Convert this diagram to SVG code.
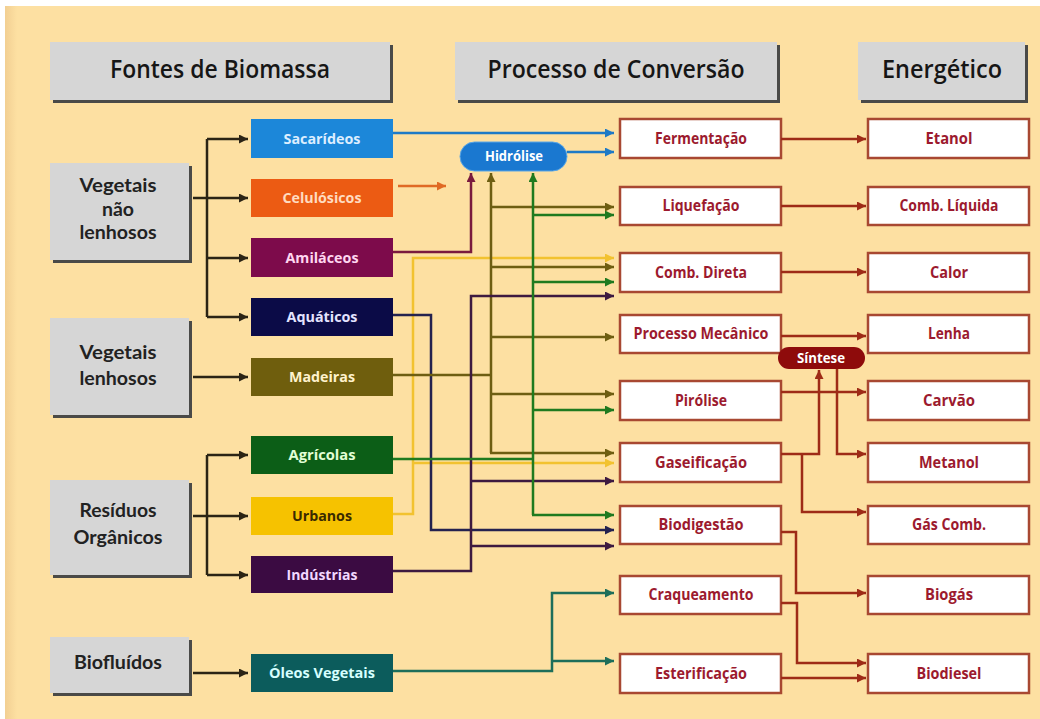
<svg xmlns="http://www.w3.org/2000/svg" width="1040" height="719" viewBox="0 0 1040 719">
<defs>
<style>
.hdr{fill:#d6d6d6}
.shd{fill:#4a4a48}
.htxt{font-family:"Open Sans","Noto Sans",sans-serif;font-size:25px;font-weight:600;fill:#161616;text-anchor:middle}
.ctxt{font-family:Lato,"Open Sans",sans-serif;font-size:19px;font-weight:700;fill:#222;text-anchor:middle}
.stxt{font-family:"Open Sans","Noto Sans",sans-serif;font-size:15px;font-weight:700;text-anchor:middle}
.pbox{fill:#fff;stroke:#a84832;stroke-width:2.5}
.ptxt{font-family:"Open Sans","Noto Sans",sans-serif;font-size:15.5px;font-weight:700;fill:#9c1a2e;text-anchor:middle}
.otxt{font-family:"Open Sans","Noto Sans",sans-serif;font-size:14px;font-weight:700;fill:#fff;text-anchor:middle}
.c{fill:none;stroke-width:2.5;stroke-linejoin:miter}
.k{stroke:#2b2415}
.bl{stroke:#1e7ac6}
.or{stroke:#e06a25}
.ma{stroke:#7a1a3e}
.ol{stroke:#6e5e12}
.gr{stroke:#1f7a1f}
.ye{stroke:#f2c230}
.nv{stroke:#24224f}
.pu{stroke:#3e1a40}
.te{stroke:#1e6e5a}
.rd{stroke:#9e2b17}
</style>
<marker id="ak" markerUnits="userSpaceOnUse" markerWidth="11" markerHeight="9" viewBox="0 0 10 10" refX="10" refY="5" orient="auto"><path d="M0,0 L10,5 L0,10 z" fill="#2b2415"/></marker>
<marker id="abl" markerUnits="userSpaceOnUse" markerWidth="11" markerHeight="9" viewBox="0 0 10 10" refX="10" refY="5" orient="auto"><path d="M0,0 L10,5 L0,10 z" fill="#1e7ac6"/></marker>
<marker id="aor" markerUnits="userSpaceOnUse" markerWidth="11" markerHeight="9" viewBox="0 0 10 10" refX="10" refY="5" orient="auto"><path d="M0,0 L10,5 L0,10 z" fill="#e06a25"/></marker>
<marker id="ama" markerUnits="userSpaceOnUse" markerWidth="11" markerHeight="9" viewBox="0 0 10 10" refX="10" refY="5" orient="auto"><path d="M0,0 L10,5 L0,10 z" fill="#7a1a3e"/></marker>
<marker id="aol" markerUnits="userSpaceOnUse" markerWidth="11" markerHeight="9" viewBox="0 0 10 10" refX="10" refY="5" orient="auto"><path d="M0,0 L10,5 L0,10 z" fill="#6e5e12"/></marker>
<marker id="agr" markerUnits="userSpaceOnUse" markerWidth="11" markerHeight="9" viewBox="0 0 10 10" refX="10" refY="5" orient="auto"><path d="M0,0 L10,5 L0,10 z" fill="#1f7a1f"/></marker>
<marker id="aye" markerUnits="userSpaceOnUse" markerWidth="11" markerHeight="9" viewBox="0 0 10 10" refX="10" refY="5" orient="auto"><path d="M0,0 L10,5 L0,10 z" fill="#f2c230"/></marker>
<marker id="anv" markerUnits="userSpaceOnUse" markerWidth="11" markerHeight="9" viewBox="0 0 10 10" refX="10" refY="5" orient="auto"><path d="M0,0 L10,5 L0,10 z" fill="#24224f"/></marker>
<marker id="apu" markerUnits="userSpaceOnUse" markerWidth="11" markerHeight="9" viewBox="0 0 10 10" refX="10" refY="5" orient="auto"><path d="M0,0 L10,5 L0,10 z" fill="#3e1a40"/></marker>
<marker id="ate" markerUnits="userSpaceOnUse" markerWidth="11" markerHeight="9" viewBox="0 0 10 10" refX="10" refY="5" orient="auto"><path d="M0,0 L10,5 L0,10 z" fill="#1e6e5a"/></marker>
<marker id="ard" markerUnits="userSpaceOnUse" markerWidth="11" markerHeight="9" viewBox="0 0 10 10" refX="10" refY="5" orient="auto"><path d="M0,0 L10,5 L0,10 z" fill="#9e2b17"/></marker>
<linearGradient id="edge" x1="0" y1="0" x2="1" y2="0"><stop offset="0" stop-color="#f2cf92"/><stop offset="1" stop-color="#fde0a2"/></linearGradient>
</defs>
<rect x="0" y="0" width="1040" height="719" fill="#ffffff"/>
<rect x="5" y="6" width="1035" height="713" fill="#fde0a2"/>
<rect x="5" y="6" width="12" height="713" fill="url(#edge)"/>

<g id="headers">
<g id="h-fontes"><rect class="shd" x="53" y="45" width="340" height="58"/><rect class="hdr" x="50" y="42" width="340" height="58"/><text class="htxt" x="220" y="78" textLength="220" lengthAdjust="spacingAndGlyphs">Fontes de Biomassa</text></g>
<g id="h-processo"><rect class="shd" x="458" y="45" width="322" height="58"/><rect class="hdr" x="455" y="42" width="322" height="58"/><text class="htxt" x="616" y="78" textLength="257" lengthAdjust="spacingAndGlyphs">Processo de Conversão</text></g>
<g id="h-energetico"><rect class="shd" x="861" y="45" width="167" height="58"/><rect class="hdr" x="858" y="42" width="167" height="58"/><text class="htxt" x="942" y="78" textLength="120" lengthAdjust="spacingAndGlyphs">Energético</text></g>
</g>

<g id="cat-vnl"><rect class="shd" x="53" y="166" width="139" height="97"/><rect class="hdr" x="50" y="163" width="139" height="97"/>
<text class="ctxt" x="118" y="192" textLength="77" lengthAdjust="spacingAndGlyphs">Vegetais</text>
<text class="ctxt" x="118" y="216" textLength="32" lengthAdjust="spacingAndGlyphs">não</text>
<text class="ctxt" x="118" y="239" textLength="77" lengthAdjust="spacingAndGlyphs">lenhosos</text></g>
<g id="cat-vl"><rect class="shd" x="53" y="321" width="139" height="97"/><rect class="hdr" x="50" y="318" width="139" height="97"/>
<text class="ctxt" x="118" y="359" textLength="77" lengthAdjust="spacingAndGlyphs">Vegetais</text>
<text class="ctxt" x="118" y="385" textLength="77" lengthAdjust="spacingAndGlyphs">lenhosos</text></g>
<g id="cat-ro"><rect class="shd" x="53" y="483" width="139" height="95"/><rect class="hdr" x="50" y="480" width="139" height="95"/>
<text class="ctxt" x="118" y="517" textLength="77" lengthAdjust="spacingAndGlyphs">Resíduos</text>
<text class="ctxt" x="118" y="544" textLength="89" lengthAdjust="spacingAndGlyphs">Orgânicos</text></g>
<g id="cat-bio"><rect class="shd" x="53" y="640" width="139" height="56"/><rect class="hdr" x="50" y="637" width="139" height="56"/>
<text class="ctxt" x="118" y="669" textLength="88" lengthAdjust="spacingAndGlyphs">Biofluídos</text></g>

<g id="src-sacarideos"><rect x="251" y="119" width="142" height="39" fill="#1c87d9"/><text class="stxt" x="322" y="144" fill="#dceeff" textLength="77" lengthAdjust="spacingAndGlyphs">Sacarídeos</text></g>
<g id="src-celulosicos"><rect x="251" y="179" width="142" height="38" fill="#ec5b13"/><text class="stxt" x="322" y="203" fill="#ffdcc0" textLength="79" lengthAdjust="spacingAndGlyphs">Celulósicos</text></g>
<g id="src-amilaceos"><rect x="251" y="238" width="142" height="39" fill="#7d0b4b"/><text class="stxt" x="322" y="263" fill="#ffd6f0" textLength="73" lengthAdjust="spacingAndGlyphs">Amiláceos</text></g>
<g id="src-aquaticos"><rect x="251" y="298" width="142" height="38" fill="#0b0b47"/><text class="stxt" x="322" y="322" fill="#e4e4ff" textLength="71" lengthAdjust="spacingAndGlyphs">Aquáticos</text></g>
<g id="src-madeiras"><rect x="251" y="358" width="142" height="38" fill="#6f5e0d"/><text class="stxt" x="322" y="382" fill="#fff2cc" textLength="66" lengthAdjust="spacingAndGlyphs">Madeiras</text></g>
<g id="src-agricolas"><rect x="251" y="436" width="142" height="38" fill="#0c5e17"/><text class="stxt" x="322" y="460" fill="#e2ffd6" textLength="67" lengthAdjust="spacingAndGlyphs">Agrícolas</text></g>
<g id="src-urbanos"><rect x="251" y="497" width="142" height="38" fill="#f6c200"/><text class="stxt" x="322" y="521" fill="#3a2a00" textLength="60" lengthAdjust="spacingAndGlyphs">Urbanos</text></g>
<g id="src-industrias"><rect x="251" y="556" width="142" height="37" fill="#3b0b42"/><text class="stxt" x="322" y="580" fill="#f2d8ff" textLength="71" lengthAdjust="spacingAndGlyphs">Indústrias</text></g>
<g id="src-oleos"><rect x="251" y="654" width="142" height="38" fill="#0c5c5c"/><text class="stxt" x="322" y="678" fill="#d6ffff" textLength="106" lengthAdjust="spacingAndGlyphs">Óleos Vegetais</text></g>

<g id="p-fermentacao"><rect class="pbox" x="620" y="119" width="161" height="39"/><text class="ptxt" x="701" y="144" textLength="92" lengthAdjust="spacingAndGlyphs">Fermentação</text></g>
<g id="p-liquefacao"><rect class="pbox" x="620" y="187" width="161" height="38"/><text class="ptxt" x="701" y="211" textLength="77" lengthAdjust="spacingAndGlyphs">Liquefação</text></g>
<g id="p-combdireta"><rect class="pbox" x="620" y="253" width="161" height="39"/><text class="ptxt" x="701" y="278" textLength="92" lengthAdjust="spacingAndGlyphs">Comb. Direta</text></g>
<g id="p-mecanico"><rect class="pbox" x="620" y="315" width="161" height="38"/><text class="ptxt" x="701" y="339" textLength="135" lengthAdjust="spacingAndGlyphs">Processo Mecânico</text></g>
<g id="p-pirolise"><rect class="pbox" x="620" y="381" width="161" height="39"/><text class="ptxt" x="701" y="406" textLength="52" lengthAdjust="spacingAndGlyphs">Pirólise</text></g>
<g id="p-gaseificacao"><rect class="pbox" x="620" y="443" width="161" height="39"/><text class="ptxt" x="701" y="468" textLength="92" lengthAdjust="spacingAndGlyphs">Gaseificação</text></g>
<g id="p-biodigestao"><rect class="pbox" x="620" y="506" width="161" height="38"/><text class="ptxt" x="701" y="530" textLength="85" lengthAdjust="spacingAndGlyphs">Biodigestão</text></g>
<g id="p-craqueamento"><rect class="pbox" x="620" y="576" width="161" height="38"/><text class="ptxt" x="701" y="600" textLength="105" lengthAdjust="spacingAndGlyphs">Craqueamento</text></g>
<g id="p-esterificacao"><rect class="pbox" x="620" y="654" width="161" height="39"/><text class="ptxt" x="701" y="679" textLength="92" lengthAdjust="spacingAndGlyphs">Esterificação</text></g>

<g id="e-etanol"><rect class="pbox" x="868" y="119" width="161" height="39"/><text class="ptxt" x="949" y="144" textLength="47" lengthAdjust="spacingAndGlyphs">Etanol</text></g>
<g id="e-combliquida"><rect class="pbox" x="868" y="187" width="161" height="38"/><text class="ptxt" x="949" y="211" textLength="99" lengthAdjust="spacingAndGlyphs">Comb. Líquida</text></g>
<g id="e-calor"><rect class="pbox" x="868" y="253" width="161" height="39"/><text class="ptxt" x="949" y="278" textLength="38" lengthAdjust="spacingAndGlyphs">Calor</text></g>
<g id="e-lenha"><rect class="pbox" x="868" y="315" width="161" height="38"/><text class="ptxt" x="949" y="339" textLength="42" lengthAdjust="spacingAndGlyphs">Lenha</text></g>
<g id="e-carvao"><rect class="pbox" x="868" y="381" width="161" height="39"/><text class="ptxt" x="949" y="406" textLength="52" lengthAdjust="spacingAndGlyphs">Carvão</text></g>
<g id="e-metanol"><rect class="pbox" x="868" y="443" width="161" height="39"/><text class="ptxt" x="949" y="468" textLength="60" lengthAdjust="spacingAndGlyphs">Metanol</text></g>
<g id="e-gascomb"><rect class="pbox" x="868" y="506" width="161" height="38"/><text class="ptxt" x="949" y="530" textLength="74" lengthAdjust="spacingAndGlyphs">Gás Comb.</text></g>
<g id="e-biogas"><rect class="pbox" x="868" y="576" width="161" height="38"/><text class="ptxt" x="949" y="600" textLength="48" lengthAdjust="spacingAndGlyphs">Biogás</text></g>
<g id="e-biodiesel"><rect class="pbox" x="868" y="654" width="161" height="39"/><text class="ptxt" x="949" y="679" textLength="65" lengthAdjust="spacingAndGlyphs">Biodiesel</text></g>

<g id="connectors">
<path class="c k" d="M193,198 H248" marker-end="url(#ak)"/>
<path class="c k" d="M207,139 V317"/>
<path class="c k" d="M207,139 H248" marker-end="url(#ak)"/>
<path class="c k" d="M207,258 H248" marker-end="url(#ak)"/>
<path class="c k" d="M207,317 H248" marker-end="url(#ak)"/>
<path class="c k" d="M193,377 H248" marker-end="url(#ak)"/>
<path class="c k" d="M193,516 H248" marker-end="url(#ak)"/>
<path class="c k" d="M207,455 V575"/>
<path class="c k" d="M207,455 H248" marker-end="url(#ak)"/>
<path class="c k" d="M207,575 H248" marker-end="url(#ak)"/>
<path class="c k" d="M193,673 H248" marker-end="url(#ak)"/>

<path class="c bl" d="M393,133 H614" marker-end="url(#abl)"/>
<path class="c bl" d="M567,152 H614" marker-end="url(#abl)"/>
<path class="c or" d="M398,186 H446" marker-end="url(#aor)"/>
<path class="c ma" d="M393,252 H471 V173" marker-end="url(#ama)"/>

<path class="c ye" d="M393,514 H413 V258 H614" marker-end="url(#aye)"/>
<path class="c ye" d="M413,463 H614" marker-end="url(#aye)"/>

<path class="c nv" d="M393,315 H431 V530 H614" marker-end="url(#anv)"/>

<path class="c ol" d="M393,375 H491"/>
<path class="c ol" d="M491,453 V173" marker-end="url(#aol)"/>
<path class="c ol" d="M491,207 H614" marker-end="url(#aol)"/>
<path class="c ol" d="M491,267 H614" marker-end="url(#aol)"/>
<path class="c ol" d="M491,337 H614" marker-end="url(#aol)"/>
<path class="c ol" d="M491,394 H614" marker-end="url(#aol)"/>
<path class="c ol" d="M490,453 H614" marker-end="url(#aol)"/>

<path class="c pu" d="M393,571 H471 V296 H614" marker-end="url(#apu)"/>
<path class="c pu" d="M471,481 H614" marker-end="url(#apu)"/>
<path class="c pu" d="M471,546 H614" marker-end="url(#apu)"/>

<path class="c gr" d="M393,459 H533"/>
<path class="c gr" d="M533,515 V173" marker-end="url(#agr)"/>
<path class="c gr" d="M533,215 H614" marker-end="url(#agr)"/>
<path class="c gr" d="M533,282 H614" marker-end="url(#agr)"/>
<path class="c gr" d="M533,410 H614" marker-end="url(#agr)"/>
<path class="c gr" d="M532,515 H614" marker-end="url(#agr)"/>

<path class="c te" d="M393,671 H552 V593 H614" marker-end="url(#ate)"/>
<path class="c te" d="M552,661 H614" marker-end="url(#ate)"/>

<path class="c rd" d="M781,139 H866" marker-end="url(#ard)"/>
<path class="c rd" d="M781,206 H866" marker-end="url(#ard)"/>
<path class="c rd" d="M781,272 H866" marker-end="url(#ard)"/>
<path class="c rd" d="M781,336 H866" marker-end="url(#ard)"/>
<path class="c rd" d="M781,392 H866" marker-end="url(#ard)"/>
<path class="c rd" d="M781,454 H819 V370" marker-end="url(#ard)"/>
<path class="c rd" d="M802,454 V512 H866" marker-end="url(#ard)"/>
<path class="c rd" d="M837,369 V454 H866" marker-end="url(#ard)"/>
<path class="c rd" d="M781,532 H796 V593 H866" marker-end="url(#ard)"/>
<path class="c rd" d="M781,603 H797 V663 H866" marker-end="url(#ard)"/>
<path class="c rd" d="M781,678 H866" marker-end="url(#ard)"/>
</g>

<g id="hidrolise"><rect x="460" y="142" width="107" height="29" rx="14.5" fill="#1a78d0" stroke="#5aa6e6" stroke-width="1"/><text class="otxt" x="514" y="161" fill="#e8f4ff" textLength="58" lengthAdjust="spacingAndGlyphs">Hidrólise</text></g>
<g id="sintese"><rect x="778" y="347" width="87" height="22" rx="11" fill="#8e0b0b"/><text class="otxt" x="821" y="363" textLength="48" lengthAdjust="spacingAndGlyphs">Síntese</text></g>
</svg>
